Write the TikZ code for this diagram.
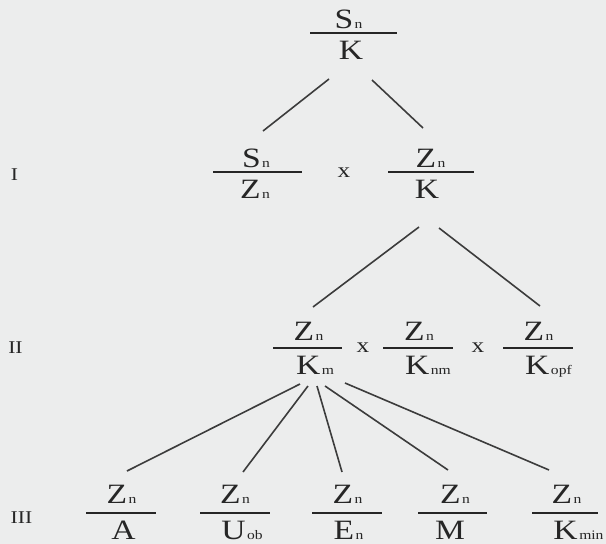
\documentclass[tikz,border=0pt]{standalone}
\usepackage{fontspec}
\newfontfamily\ffont{Liberation Serif}[FakeStretch=1.2]
\definecolor{ink}{HTML}{262626}
\definecolor{paper}{HTML}{ECEDED}
\newcommand{\sbs}[1]{\kern1.5pt{\fontsize{13}{15}\selectfont #1}}
\begin{document}
\begin{tikzpicture}[x=1pt,y=-1pt,
  big/.style={font=\fontsize{28}{30}\ffont, text=ink, inner sep=0pt, anchor=base},
  op/.style={font=\fontsize{21}{24}\ffont, text=ink, inner sep=0pt, anchor=base},
  lvl/.style={font=\fontsize{18}{20}\ffont, text=ink, inner sep=0pt, anchor=base},
  bar/.style={draw=ink, line width=1.5pt},
  conn/.style={draw=ink!90, line width=1.6pt}]
\fill[paper] (0,0) rectangle (606,544);
\useasboundingbox (0,0) rectangle (606,544);

% level labels
\node[lvl] (lI)   at (14.5,180) {I};
\node[lvl] (lII)  at (15.5,353) {II};
\node[lvl] (lIII) at (21.5,523) {III};

% top fraction
\node[big] (t0n) at (348.5,28) {S\sbs{n}};
\node[big] (t0d) at (351,59) {K};
\draw[bar] (310,33) -- (397,33);

% level I
\node[big] (f1n) at (256,167) {S\sbs{n}};
\node[big] (f1d) at (255,198) {Z\sbs{n}};
\draw[bar] (213,172) -- (302,172);
\node[op] (x1) at (344,177) {x};
\node[big] (f2n) at (430.5,167) {Z\sbs{n}};
\node[big] (f2d) at (427,198) {K};
\draw[bar] (388,172) -- (474,172);

% level II
\node[big] (f3n) at (308.5,340) {Z\sbs{n}};
\node[big] (f3d) at (315,374) {K\sbs{m}};
\draw[bar] (273,348) -- (342,348);
\node[op] (x2) at (363,352) {x};
\node[big] (f4n) at (419,340) {Z\sbs{n}};
\node[big] (f4d) at (428,374) {K\sbs{nm}};
\draw[bar] (383,348) -- (453,348);
\node[op] (x3) at (478,352) {x};
\node[big] (f5n) at (538.5,340) {Z\sbs{n}};
\node[big] (f5d) at (548.5,374) {K\sbs{opf}};
\draw[bar] (503,348) -- (573,348);

% level III
\node[big] (f6n) at (121.5,503) {Z\sbs{n}};
\node[big] (f6d) at (123.5,539) {A};
\draw[bar] (86,513) -- (156,513);
\node[big] (f7n) at (235,503) {Z\sbs{n}};
\node[big] (f7d) at (242,539) {U\sbs{ob}};
\draw[bar] (200,513) -- (270,513);
\node[big] (f8n) at (347.5,503) {Z\sbs{n}};
\node[big] (f8d) at (348.5,539) {E\sbs{n}};
\draw[bar] (312,513) -- (382,513);
\node[big] (f9n) at (455,503) {Z\sbs{n}};
\node[big] (f9d) at (450,539) {M};
\draw[bar] (418,513) -- (487,513);
\node[big] (f10n) at (566.5,503) {Z\sbs{n}};
\node[big] (f10d) at (578.5,539) {K\sbs{min}};
\draw[bar] (532,513) -- (598,513);

% connector end points
\coordinate (c1a) at (329,79);  \coordinate (c1b) at (263,131);
\coordinate (c2a) at (372,80);  \coordinate (c2b) at (423,128);
\coordinate (c3a) at (419,227); \coordinate (c3b) at (313,307);
\coordinate (c4a) at (439,228); \coordinate (c4b) at (540,306);
\coordinate (c5a) at (300,384); \coordinate (c5b) at (127,471);
\coordinate (c6a) at (308,386); \coordinate (c6b) at (243,472);
\coordinate (c7a) at (317,386); \coordinate (c7b) at (342,472);
\coordinate (c8a) at (325,386); \coordinate (c8b) at (448,470);
\coordinate (c9a) at (345,383); \coordinate (c9b) at (549,470);

\draw[conn] (c1a) -- (c1b);
\draw[conn] (c2a) -- (c2b);
\draw[conn] (c3a) -- (c3b);
\draw[conn] (c4a) -- (c4b);
\draw[conn] (c5a) -- (c5b);
\draw[conn] (c6a) -- (c6b);
\draw[conn] (c7a) -- (c7b);
\draw[conn] (c8a) -- (c8b);
\draw[conn] (c9a) -- (c9b);
\end{tikzpicture}
\end{document}
